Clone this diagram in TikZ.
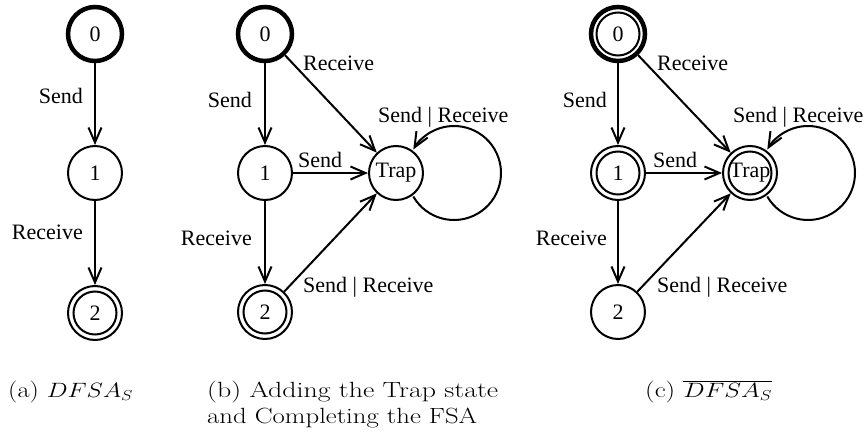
\documentclass[tikz,border=0pt]{standalone}
\usepackage{fontspec}
\newfontfamily\timesf{Liberation Serif}
\usetikzlibrary{arrows.meta,calc}
% caption line set to a given width, keeping its natural height
\newcommand{\capline}[2]{\resizebox{#1}{\height}{#2}}
\begin{document}
\begin{tikzpicture}[x=1pt,y=-1pt,
  every node/.style={inner sep=0pt},
  state/.style={circle,draw,line width=2pt,minimum size=54pt,
    font=\timesf\fontsize{22}{26}\selectfont},
  startstate/.style={line width=4.5pt},
  accept/.style={path picture={\draw[line width=2pt]
    (path picture bounding box.center) circle[radius=21.5pt];}},
  edge/.style={line width=2pt,-{Straight Barb[length=15pt,width=13pt]}},
  lbl/.style={font=\timesf\fontsize{22}{26}\selectfont},
  captext/.style={font=\fontsize{22}{26}\selectfont,anchor=base west}]
\useasboundingbox (0,0) rectangle (868,439);

% (a) the original automaton
\node[state,startstate] (a0) at (95,34) {0};
\node[state] (a1) at (95,173) {1};
\node[state,accept] (a2) at (95,313) {2};
\draw[edge] (a0) -- (a1);
\draw[edge] (a1) -- (a2);
\node[lbl,anchor=base east] (la01) at (83,103) {Send};
\node[lbl,anchor=base east] (la12) at (83,239) {Receive};

% (b) completed automaton with a trap state
\node[state,startstate] (b0) at (265,34) {0};
\node[state] (b1) at (265,173) {1};
\node[state,accept] (b2) at (265,312) {2};
\node[state] (bT) at (396,173) {Trap};
\draw[edge] (b0) -- (b1);
\draw[edge] (b1) -- (b2);
\draw[edge] (b0) -- (bT);
\draw[edge] (b1) -- (bT);
\draw[edge] (b2) -- (bT);
\draw[edge] ($(bT.center)+(58pt,0pt)+(210:47pt)$)
  arc[start angle=210,end angle=510,radius=47pt];
\node[lbl,anchor=base east] (lb01) at (252,107) {Send};
\node[lbl,anchor=base east] (lb12) at (252,245) {Receive};
\node[lbl,anchor=base west] (lb0T) at (303,70) {Receive};
\node[lbl,anchor=base west] (lb1T) at (298,167) {Send};
\node[lbl,anchor=base west] (lb2T) at (303,292) {Send | Receive};
\node[lbl,anchor=base west] (lbTT) at (378,122) {Send | Receive};

% (c) complement: accepting and non-accepting states swapped
\node[state,startstate,accept] (c0) at (618,34) {0};
\node[state,accept] (c1) at (618,173) {1};
\node[state] (c2) at (618,312) {2};
\node[state,accept] (cT) at (750,173) {Trap};
\draw[edge] (c0) -- (c1);
\draw[edge] (c1) -- (c2);
\draw[edge] (c0) -- (cT);
\draw[edge] (c1) -- (cT);
\draw[edge] (c2) -- (cT);
\draw[edge] ($(cT.center)+(58pt,0pt)+(210:47pt)$)
  arc[start angle=210,end angle=510,radius=47pt];
\node[lbl,anchor=base east] (lc01) at (607,107) {Send};
\node[lbl,anchor=base east] (lc12) at (607,245) {Receive};
\node[lbl,anchor=base west] (lc0T) at (657,70) {Receive};
\node[lbl,anchor=base west] (lc1T) at (653,167) {Send};
\node[lbl,anchor=base west] (lc2T) at (657,292) {Send | Receive};
\node[lbl,anchor=base west] (lcTT) at (733,122) {Send | Receive};

% captions
\node[captext] (capa) at (8,397) {\capline{125pt}{(a) $DFSA_S$}};
\node[captext] (capb1) at (207,397) {\capline{291pt}{(b) Adding the Trap state}};
\node[captext] (capb2) at (207,423) {\capline{270pt}{and Completing the FSA}};
\node[captext] (capc) at (645,397) {\capline{127pt}{(c) $\overline{DFSA_S}$}};
\end{tikzpicture}
\end{document}
